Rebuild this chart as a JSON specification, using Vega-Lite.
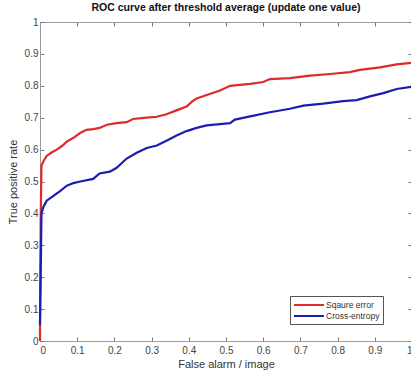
{
  "$schema": "https://vega.github.io/schema/vega-lite/v6.json",
  "width": 372,
  "height": 319,
  "autosize": {"type": "none"},
  "padding": {"left": 40, "top": 22, "right": 0, "bottom": 35},
  "background": "white",
  "config": {
    "font": "Liberation Sans",
    "view": {"stroke": null},
    "axis": {"grid": false, "domainColor": "#9a9a9a", "tickColor": "#777", "labelColor": "#444", "titleColor": "#333", "labelFontSize": 10, "titleFontSize": 11, "titleFontWeight": "normal"}
  },
  "title": {"text": "ROC curve after threshold average (update one value)", "fontSize": 10.5, "fontWeight": "bold", "color": "#111", "offset": 4, "anchor": "middle"},
  "datasets": {
    "roc": [
      {"series": "Sqaure error", "fa": 0, "tpr": 0},
      {"series": "Sqaure error", "fa": 0, "tpr": 0.05},
      {"series": "Sqaure error", "fa": 0.002, "tpr": 0.4},
      {"series": "Sqaure error", "fa": 0.004, "tpr": 0.55},
      {"series": "Sqaure error", "fa": 0.01, "tpr": 0.565},
      {"series": "Sqaure error", "fa": 0.018, "tpr": 0.58},
      {"series": "Sqaure error", "fa": 0.03, "tpr": 0.59},
      {"series": "Sqaure error", "fa": 0.045, "tpr": 0.6},
      {"series": "Sqaure error", "fa": 0.06, "tpr": 0.612},
      {"series": "Sqaure error", "fa": 0.072, "tpr": 0.625},
      {"series": "Sqaure error", "fa": 0.09, "tpr": 0.637},
      {"series": "Sqaure error", "fa": 0.108, "tpr": 0.652},
      {"series": "Sqaure error", "fa": 0.125, "tpr": 0.662},
      {"series": "Sqaure error", "fa": 0.143, "tpr": 0.664},
      {"series": "Sqaure error", "fa": 0.16, "tpr": 0.668},
      {"series": "Sqaure error", "fa": 0.18, "tpr": 0.678},
      {"series": "Sqaure error", "fa": 0.206, "tpr": 0.683},
      {"series": "Sqaure error", "fa": 0.233, "tpr": 0.686},
      {"series": "Sqaure error", "fa": 0.25, "tpr": 0.696},
      {"series": "Sqaure error", "fa": 0.287, "tpr": 0.7},
      {"series": "Sqaure error", "fa": 0.314, "tpr": 0.703},
      {"series": "Sqaure error", "fa": 0.34, "tpr": 0.711},
      {"series": "Sqaure error", "fa": 0.367, "tpr": 0.723},
      {"series": "Sqaure error", "fa": 0.394, "tpr": 0.735},
      {"series": "Sqaure error", "fa": 0.41, "tpr": 0.752},
      {"series": "Sqaure error", "fa": 0.421, "tpr": 0.76},
      {"series": "Sqaure error", "fa": 0.448, "tpr": 0.771},
      {"series": "Sqaure error", "fa": 0.484, "tpr": 0.785},
      {"series": "Sqaure error", "fa": 0.511, "tpr": 0.8},
      {"series": "Sqaure error", "fa": 0.565, "tpr": 0.806},
      {"series": "Sqaure error", "fa": 0.6, "tpr": 0.812},
      {"series": "Sqaure error", "fa": 0.618, "tpr": 0.821},
      {"series": "Sqaure error", "fa": 0.672, "tpr": 0.824},
      {"series": "Sqaure error", "fa": 0.726, "tpr": 0.832},
      {"series": "Sqaure error", "fa": 0.78, "tpr": 0.837},
      {"series": "Sqaure error", "fa": 0.833, "tpr": 0.843},
      {"series": "Sqaure error", "fa": 0.86, "tpr": 0.85},
      {"series": "Sqaure error", "fa": 0.914, "tpr": 0.858},
      {"series": "Sqaure error", "fa": 0.959, "tpr": 0.867},
      {"series": "Sqaure error", "fa": 1.0, "tpr": 0.872},
      {"series": "Cross-entropy", "fa": 0, "tpr": 0.05},
      {"series": "Cross-entropy", "fa": 0.004, "tpr": 0.4},
      {"series": "Cross-entropy", "fa": 0.009, "tpr": 0.42},
      {"series": "Cross-entropy", "fa": 0.018, "tpr": 0.44},
      {"series": "Cross-entropy", "fa": 0.036, "tpr": 0.455},
      {"series": "Cross-entropy", "fa": 0.054, "tpr": 0.47},
      {"series": "Cross-entropy", "fa": 0.072, "tpr": 0.487},
      {"series": "Cross-entropy", "fa": 0.09, "tpr": 0.495},
      {"series": "Cross-entropy", "fa": 0.108, "tpr": 0.5},
      {"series": "Cross-entropy", "fa": 0.143, "tpr": 0.508},
      {"series": "Cross-entropy", "fa": 0.16, "tpr": 0.525},
      {"series": "Cross-entropy", "fa": 0.188, "tpr": 0.531},
      {"series": "Cross-entropy", "fa": 0.206, "tpr": 0.543},
      {"series": "Cross-entropy", "fa": 0.233, "tpr": 0.572},
      {"series": "Cross-entropy", "fa": 0.26, "tpr": 0.59},
      {"series": "Cross-entropy", "fa": 0.287, "tpr": 0.605},
      {"series": "Cross-entropy", "fa": 0.314, "tpr": 0.613},
      {"series": "Cross-entropy", "fa": 0.34, "tpr": 0.628},
      {"series": "Cross-entropy", "fa": 0.367, "tpr": 0.644},
      {"series": "Cross-entropy", "fa": 0.394, "tpr": 0.658},
      {"series": "Cross-entropy", "fa": 0.421, "tpr": 0.668},
      {"series": "Cross-entropy", "fa": 0.448, "tpr": 0.676},
      {"series": "Cross-entropy", "fa": 0.484, "tpr": 0.68},
      {"series": "Cross-entropy", "fa": 0.511, "tpr": 0.683},
      {"series": "Cross-entropy", "fa": 0.524, "tpr": 0.694},
      {"series": "Cross-entropy", "fa": 0.565, "tpr": 0.704},
      {"series": "Cross-entropy", "fa": 0.618, "tpr": 0.717},
      {"series": "Cross-entropy", "fa": 0.672, "tpr": 0.728},
      {"series": "Cross-entropy", "fa": 0.708, "tpr": 0.738},
      {"series": "Cross-entropy", "fa": 0.761, "tpr": 0.744},
      {"series": "Cross-entropy", "fa": 0.815, "tpr": 0.752},
      {"series": "Cross-entropy", "fa": 0.851, "tpr": 0.755},
      {"series": "Cross-entropy", "fa": 0.887, "tpr": 0.767},
      {"series": "Cross-entropy", "fa": 0.923, "tpr": 0.777},
      {"series": "Cross-entropy", "fa": 0.959, "tpr": 0.79},
      {"series": "Cross-entropy", "fa": 1.0, "tpr": 0.797}
    ]
  },
  "data": {"name": "roc"},
  "resolve": {"axis": {"x": "independent", "y": "independent"}},
  "layer": [
    {
      "mark": {"type": "line", "opacity": 0},
      "encoding": {
        "x": {"field": "fa", "type": "quantitative", "scale": {"domain": [0, 1], "nice": false}, "axis": {"orient": "top", "labels": false, "title": null, "tickSize": -4, "values": [0,0.1,0.2,0.3,0.4,0.5,0.6,0.7,0.8,0.9,1]}},
        "y": {"field": "tpr", "type": "quantitative", "scale": {"domain": [0, 1], "nice": false}, "axis": {"orient": "right", "labels": false, "title": null, "tickSize": -4, "values": [0,0.1,0.2,0.3,0.4,0.5,0.6,0.7,0.8,0.9,1]}}
      }
    },
    {
      "mark": {"type": "line", "strokeWidth": 2.2},
      "encoding": {
        "x": {"field": "fa", "type": "quantitative", "scale": {"domain": [0, 1], "nice": false}, "axis": {"orient": "bottom", "title": "False alarm / image", "tickSize": -4, "labelPadding": 8, "titlePadding": 3, "format": ".1~f", "values": [0,0.1,0.2,0.3,0.4,0.5,0.6,0.7,0.8,0.9,1]}},
        "y": {"field": "tpr", "type": "quantitative", "scale": {"domain": [0, 1], "nice": false}, "axis": {"orient": "left", "title": "True positive rate", "tickSize": -4, "labelPadding": 6, "titlePadding": 6, "format": ".1~f", "values": [0,0.1,0.2,0.3,0.4,0.5,0.6,0.7,0.8,0.9,1]}},
        "color": {"field": "series", "type": "nominal", "sort": ["Sqaure error", "Cross-entropy"], "scale": {"domain": ["Sqaure error", "Cross-entropy"], "range": ["#dd2a2a", "#1c1cb0"]},
          "legend": {"title": null, "orient": "none", "legendX": 250, "legendY": 274, "symbolType": "M-1,0H5", "symbolSize": 100, "symbolStrokeWidth": 2, "labelFontSize": 8.5, "labelColor": "#333", "strokeColor": "#555", "fillColor": "white", "padding": 3, "rowPadding": 0, "labelOffset": 21}},
        "order": {"field": "fa", "type": "quantitative"}
      }
    }
  ]
}
